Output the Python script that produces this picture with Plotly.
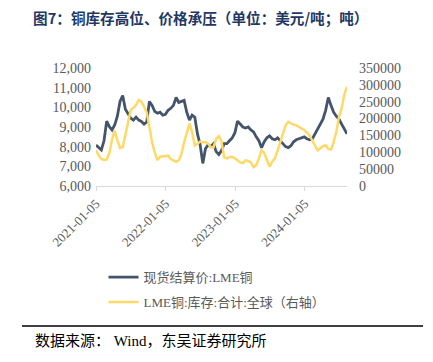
import pandas as pd
import plotly.graph_objects as go

dates = pd.date_range("2021-01-05", periods=95, freq="14D").strftime("%Y-%m-%d").tolist()

price = [8085, 7950, 7830, 8300, 9300, 9015, 8850, 9100, 9550, 10300,
         10600, 9900, 9650, 9450, 9350, 9500, 9350, 9280, 9150, 9250,
         10300, 10100, 9800, 9700, 9750, 9600, 9650, 9850, 9950, 10100,
         10500, 10250, 10300, 10350, 9750, 9350, 9600, 9500, 8650, 8100,
         7150, 7900, 8100, 8000, 8150, 7750, 7600, 7800, 8150, 8150,
         8300, 8450, 8700, 9300, 9150, 9000, 8950, 9000, 8850, 8750,
         8500, 8300, 7950, 8250, 8450, 8550, 8400, 8350, 8450, 8300,
         8150, 8000, 7950, 8050, 8250, 8350, 8400, 8450, 8500, 8400,
         8350, 8400, 8650, 8900, 9200, 9400, 9850, 10500, 10100, 9750,
         9550, 9400, 9150, 8900, 8650]

stock = [106800, 90000, 80000, 77000, 78000, 97000, 138000, 164000, 136000, 113000,
         115000, 150000, 190000, 225000, 232000, 240000, 255000, 250000, 235000, 218000,
         175000, 130000, 100000, 77000, 87000, 88000, 87000, 90000, 80000, 75000,
         72000, 77000, 95000, 130000, 160000, 185000, 160000, 120000, 125000, 132000,
         130000, 130000, 126000, 115000, 115000, 140000, 148000, 132000, 85000, 82000,
         86000, 86000, 82000, 76000, 70000, 68000, 76000, 74000, 70000, 56000,
         62000, 82000, 106000, 98000, 80000, 57000, 72000, 82000, 105000, 130000,
         160000, 180000, 190000, 185000, 182000, 180000, 176000, 172000, 166000, 158000,
         150000, 135000, 120000, 106000, 112000, 118000, 121000, 110000, 108000, 130000,
         160000, 205000, 230000, 272000, 295000]

tick_vals = ["2021-01-05", "2022-01-05", "2023-01-05", "2024-01-05"]

serif = "Liberation Serif, Noto Sans CJK SC, serif"
gray = "#595959"

fig = go.Figure()
fig.add_trace(go.Scatter(x=dates, y=price, name="现货结算价:LME铜", mode="lines",
                         legendgroup="a", line=dict(color="#44546A", width=2.8)))
fig.add_trace(go.Scatter(x=dates, y=stock, name="LME铜:库存:合计:全球（右轴）", mode="lines",
                         legendgroup="b", line=dict(color="#FFD966", width=2.5), yaxis="y2"))

fig.update_layout(
    width=433, height=362,
    margin=dict(l=88, r=94, t=60, b=184, autoexpand=False),
    paper_bgcolor="white", plot_bgcolor="white",
    font=dict(family=serif, size=13, color=gray),
    showlegend=True,
    legend=dict(x=0.03, y=-0.645, xanchor="left", yanchor="top",
                font=dict(family=serif, size=13, color=gray),
                bgcolor="rgba(0,0,0,0)", tracegroupgap=5),
    xaxis=dict(type="date", range=[dates[0], dates[-1]], tickvals=tick_vals, ticktext=tick_vals,
               tickangle=-45, showgrid=False, showline=True, linecolor="#D9D9D9", linewidth=1,
               ticks="outside", ticklen=4, tickcolor="#D9D9D9",
               tickfont=dict(family=serif, size=13, color=gray), zeroline=False),
    yaxis=dict(range=[6000, 12000], dtick=1000, tickformat=",", showgrid=False, zeroline=False,
               showline=False, ticklabelstandoff=4,
               tickfont=dict(family=serif, size=14, color=gray)),
    yaxis2=dict(range=[0, 350000], dtick=50000, tickformat="d", overlaying="y", side="right",
                showgrid=False, zeroline=False, showline=False, ticklabelstandoff=11,
                tickfont=dict(family=serif, size=14, color=gray)),
    title=dict(text="<b>图7：铜库存高位、价格承压（单位：美元/吨；吨）</b>", x=0.058, xanchor="left",
               y=0.97, yanchor="middle",
               font=dict(family="Noto Sans CJK SC", size=14.6, color="#1F3864")),
)

fig.add_annotation(text="数据来源： Wind，东吴证券研究所", xref="paper", yref="paper",
                   x=-0.251, y=-1.314, xanchor="left", yanchor="middle", showarrow=False,
                   font=dict(family=serif, size=15, color="#000000"))
fig.add_shape(type="line", xref="paper", yref="paper", x0=-0.295, x1=1.303, y0=-1.186, y1=-1.186,
              line=dict(color="#000000", width=1.5))

fig.write_html("out.html")
